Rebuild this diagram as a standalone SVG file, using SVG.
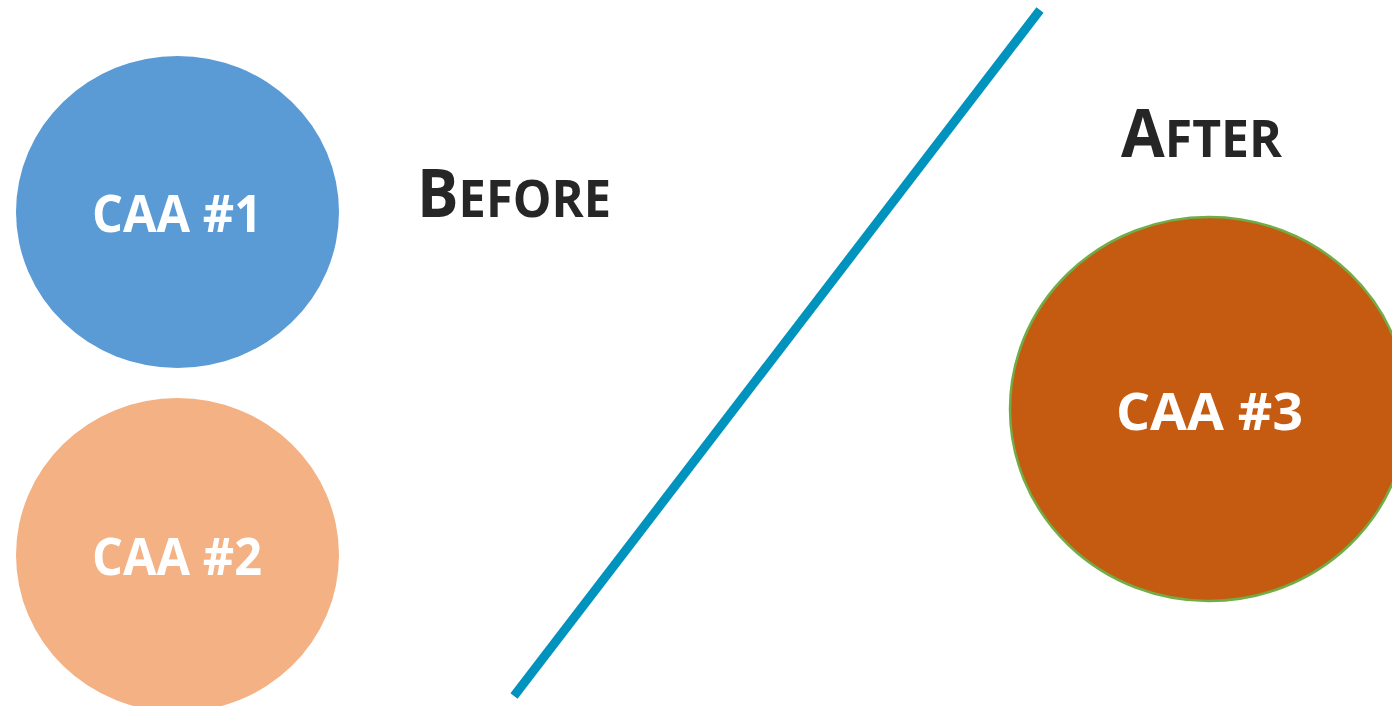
<svg xmlns="http://www.w3.org/2000/svg" width="1392" height="706" viewBox="0 0 1392 706">
<style>
.lbl{font-family:"Open Sans","Liberation Sans",sans-serif;font-weight:bold;fill:#FFFFFF;font-size:52px}
.hdr{font-family:"Open Sans","Liberation Sans",sans-serif;font-weight:bold;fill:#262626}
.big{font-size:66px}
.sm{font-size:52px}
</style>
<rect width="1392" height="706" fill="#FFFFFF"/>
<g id="connectors">
<line x1="1040" y1="10" x2="514" y2="696" stroke="#0093BE" stroke-width="9"/>
</g>
<g id="caa1">
<ellipse cx="177.5" cy="212" rx="161.5" ry="156" fill="#5B9BD5"/>
<text class="lbl" x="92" y="232" textLength="170" lengthAdjust="spacingAndGlyphs">CAA #1</text>
</g>
<g id="caa2">
<ellipse cx="177.5" cy="555" rx="161.5" ry="157" fill="#F4B183"/>
<text class="lbl" x="92" y="575" textLength="170" lengthAdjust="spacingAndGlyphs">CAA #2</text>
</g>
<g id="caa3">
<ellipse cx="1209" cy="409" rx="199" ry="192" fill="#C55A11" stroke="#70AD47" stroke-width="2.5"/>
<text class="lbl" x="1116" y="430" textLength="187" lengthAdjust="spacingAndGlyphs">CAA #3</text>
</g>
<g id="before">
<text class="hdr" x="417" y="217" textLength="194" lengthAdjust="spacingAndGlyphs"><tspan class="big">B</tspan><tspan class="sm">EFORE</tspan></text>
</g>
<g id="after">
<text class="hdr" x="1121" y="157" textLength="161" lengthAdjust="spacingAndGlyphs"><tspan class="big">A</tspan><tspan class="sm">FTER</tspan></text>
</g>
</svg>
